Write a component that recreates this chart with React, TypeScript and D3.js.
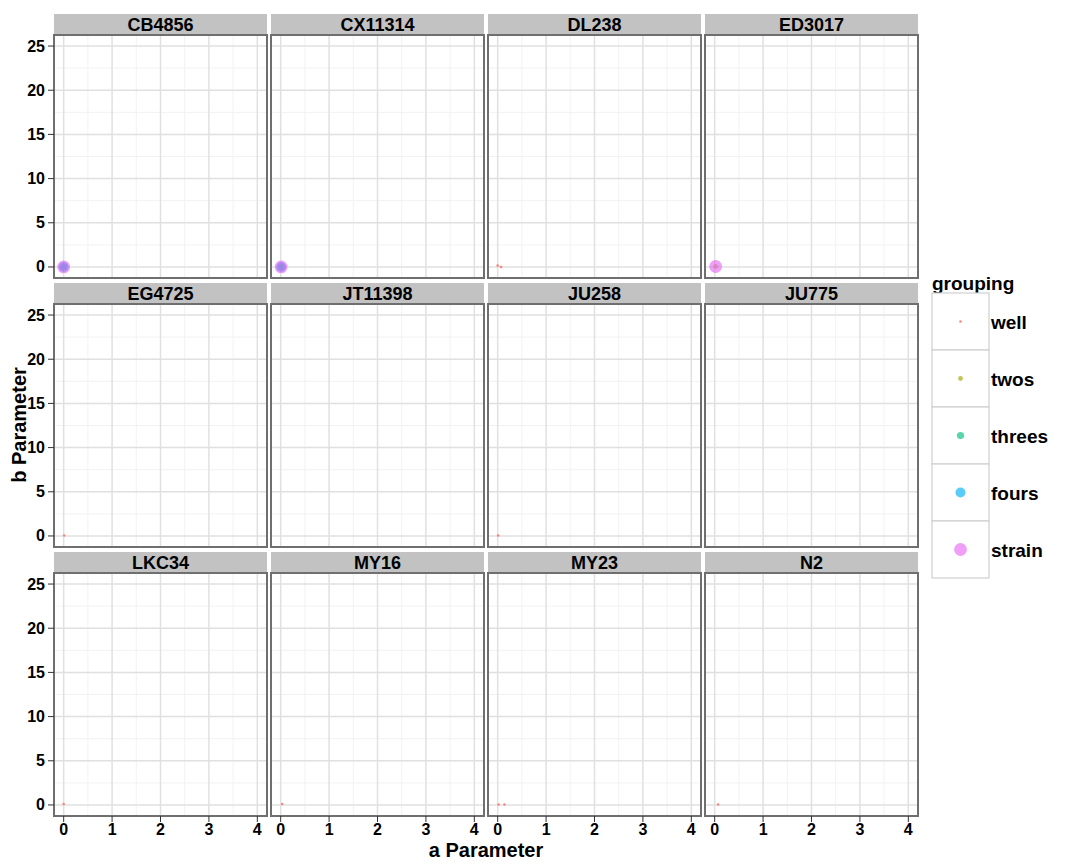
import React from 'react';
import * as d3 from 'd3';

// facet strains, in panel order
const strains = ['CB4856', 'CX11314', 'DL238', 'ED3017', 'EG4725', 'JT11398', 'JU258', 'JU775', 'LKC34', 'MY16', 'MY23', 'N2'];
const groupings = ['well', 'twos', 'threes', 'fours', 'strain'];
const groupColors = ['#F8766D', '#A3A500', '#00BF7D', '#00B0F6', '#E76BF3'];
const groupRadius = [1.3, 2.4, 3.6, 5, 6.4];
const xTicks = [0, 1, 2, 3, 4];
const yTicks = [0, 5, 10, 15, 20, 25];

// fitted parameters (a, b) per strain and grouping
const pointStrain = ['CB4856', 'CB4856', 'CB4856', 'CB4856', 'CX11314', 'CX11314', 'CX11314', 'CX11314', 'DL238', 'DL238', 'ED3017', 'ED3017', 'EG4725', 'JU258', 'LKC34', 'MY16', 'MY23', 'MY23', 'N2'];
const pointGroup = ['twos', 'threes', 'fours', 'strain', 'twos', 'threes', 'fours', 'strain', 'well', 'well', 'twos', 'strain', 'well', 'well', 'well', 'well', 'well', 'well', 'well'];
const pointA = [0.0, 0.0, 0.0, 0.0, 0.01, 0.01, 0.01, 0.01, 0.0, 0.07, 0.02, 0.02, 0.01, 0.01, 0.0, 0.03, 0.02, 0.14, 0.07];
const pointB = [0.0, 0.0, 0.0, 0.0, 0.0, 0.0, 0.0, 0.0, 0.15, 0.0, 0.05, 0.05, 0.05, 0.05, 0.1, 0.1, 0.05, 0.05, 0.05];

const W = 1080;
const H = 864;
const font = '"Liberation Sans", Arial, sans-serif';

const colW = 213;
const colStep = 217;
const left0 = 54;
const stripH = 21;
const panelH = 243;
const rowTops = [14, 283, 552];

const x = d3.scaleLinear().domain([-0.2, 4.2]).range([0, colW]);
const y = d3.scaleLinear().domain([-1.25, 26.25]).range([panelH, 0]);
const color = d3.scaleOrdinal<string, string>().domain(groupings).range(groupColors);
const radius = d3.scaleOrdinal<string, number>().domain(groupings).range(groupRadius);

const xMinor = d3.range(-0.5, 4.6, 1).filter(v => v > -0.2 && v < 4.2);
const yMinor = d3.range(-2.5, 27.6, 5).filter(v => v > -1.25 && v < 26.25);

function Panel({ name, idx }: { name: string; idx: number }) {
  const col = idx % 4;
  const row = Math.floor(idx / 4);
  const px = left0 + col * colStep;
  const sy = rowTops[row];
  const py = sy + stripH;
  const pts = pointStrain.map((s, i) => ({ s, g: pointGroup[i], a: pointA[i], b: pointB[i] })).filter(p => p.s === name);
  return (
    <g>
      <rect x={px} y={sy} width={colW} height={stripH} fill="#c2c2c2" />
      <text x={px + colW / 2} y={sy + stripH / 2 + 6} textAnchor="middle" fontSize={18} fontWeight="bold" fontFamily={font}>{name}</text>
      <g transform={`translate(${px},${py})`}>
        <rect width={colW} height={panelH} fill="#fff" />
        {xMinor.map(v => <line key={'xm' + v} x1={x(v)} x2={x(v)} y1={0} y2={panelH} stroke="#f2f2f2" strokeWidth={1} />)}
        {yMinor.map(v => <line key={'ym' + v} y1={y(v)} y2={y(v)} x1={0} x2={colW} stroke="#f2f2f2" strokeWidth={1} />)}
        {xTicks.map(v => <line key={'xg' + v} x1={x(v)} x2={x(v)} y1={0} y2={panelH} stroke="#e0e0e0" strokeWidth={1.5} />)}
        {yTicks.map(v => <line key={'yg' + v} y1={y(v)} y2={y(v)} x1={0} x2={colW} stroke="#e0e0e0" strokeWidth={1.5} />)}
        {pts.map((p, i) => (
          <circle key={i} cx={x(p.a)} cy={y(p.b)} r={radius(p.g)} fill={color(p.g)} fillOpacity={p.g === 'well' ? 0.85 : 0.65} />
        ))}
        <rect width={colW} height={panelH} fill="none" stroke="#6f6f6f" strokeWidth={2} />
        {col === 0 && yTicks.map(v => (
          <g key={'yt' + v}>
            <line x1={-6} x2={0} y1={y(v)} y2={y(v)} stroke="#333" strokeWidth={1} />
            <text x={-9} y={y(v) + 5.5} textAnchor="end" fontSize={16} fontWeight="bold" fontFamily={font}>{v}</text>
          </g>
        ))}
        {row === 2 && xTicks.map(v => (
          <g key={'xt' + v}>
            <line x1={x(v)} x2={x(v)} y1={panelH} y2={panelH + 6} stroke="#333" strokeWidth={1} />
            <text x={x(v)} y={panelH + 19} textAnchor="middle" fontSize={16} fontWeight="bold" fontFamily={font}>{v}</text>
          </g>
        ))}
      </g>
    </g>
  );
}

export default function App() {
  const legX = 932;
  const legY = 293;
  const keyW = 57;
  const keyH = 57;
  return (
    <svg width={W} height={H} style={{ position: 'absolute', left: 0, top: 0, background: '#fff' }}>
      <rect width={W} height={H} fill="#fff" />
      {strains.map((s, i) => <Panel key={s} name={s} idx={i} />)}
      <text x={486} y={857} textAnchor="middle" fontSize={20} fontWeight="bold" fontFamily={font}>a Parameter</text>
      <text transform="translate(26,425) rotate(-90)" textAnchor="middle" fontSize={20} fontWeight="bold" fontFamily={font}>b Parameter</text>
      <text x={legX} y={290} fontSize={19} fontWeight="bold" fontFamily={font}>grouping</text>
      {groupings.map((g, i) => (
        <g key={g} transform={`translate(${legX},${legY + i * keyH})`}>
          <rect width={keyW} height={keyH} fill="#fff" stroke="#cfcfcf" strokeWidth={1.2} />
          <circle cx={keyW / 2} cy={keyH / 2} r={radius(g)} fill={color(g)} fillOpacity={g === 'well' ? 0.85 : 0.65} />
          <text x={keyW + 2} y={keyH / 2 + 7} fontSize={19} fontWeight="bold" fontFamily={font}>{g}</text>
        </g>
      ))}
    </svg>
  );
}
